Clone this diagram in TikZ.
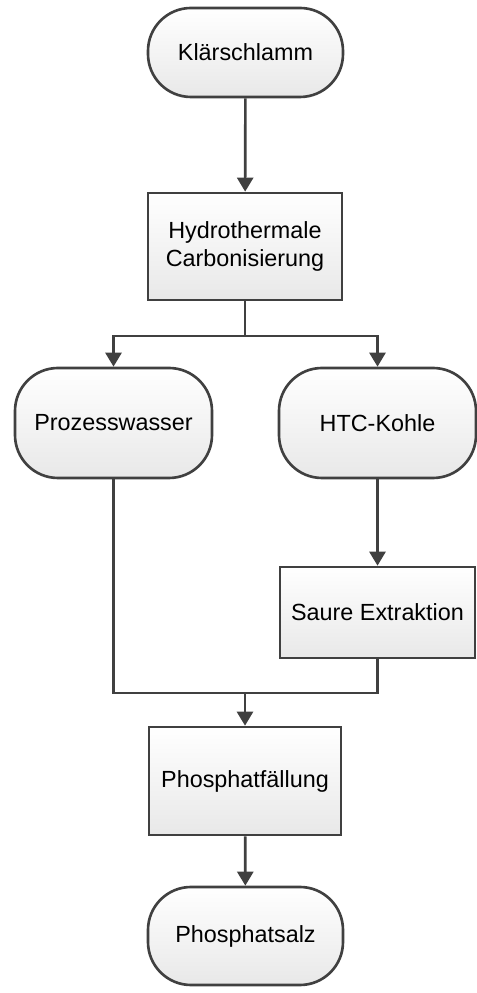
\documentclass[tikz,border=0pt]{standalone}
\usepackage{fontspec}
\setmainfont{Liberation Sans}
\usetikzlibrary{arrows.meta}

\definecolor{rand}{HTML}{404040}

\tikzset{
  kasten/.style={draw=rand, line width=1.5pt, top color=white, bottom color=black!9,
    align=center, font=\fontsize{13.3}{16}\selectfont, inner sep=2pt},
  termin/.style={kasten, rounded corners=0.86cm},
  pfeil/.style={draw=rand, line width=1.5pt,
    -{Triangle[width=0.32cm,length=0.28cm]}},
  linie/.style={draw=rand, line width=1.5pt}
}

\begin{document}
\begin{tikzpicture}
\useasboundingbox (0,0) rectangle (9.54,19.86);

% Ausgangsstoff und HTC
\node[termin, minimum width=3.9cm, minimum height=1.78cm] (klaer) at (4.91,18.81) {Klärschlamm};
\node[kasten, minimum width=3.88cm, minimum height=2.14cm] (htc) at (4.9,14.93) {Hydrothermale\\Carbonisierung};

% Produkte
\node[termin, minimum width=3.94cm, minimum height=2.2cm] (wasser) at (2.27,11.4) {Prozesswasser};
\node[termin, minimum width=3.94cm, minimum height=2.2cm] (kohle) at (7.55,11.4) {HTC-Kohle};
\node[kasten, minimum width=3.9cm, minimum height=1.82cm] (saure) at (7.55,7.61) {Saure Extraktion};

% Faellung
\node[kasten, minimum width=3.84cm, minimum height=2.16cm] (faell) at (4.9,4.24) {Phosphatfällung};
\node[termin, minimum width=3.9cm, minimum height=1.96cm] (salz) at (4.91,1.14) {Phosphatsalz};

\coordinate (split) at (4.9,13.14);
\coordinate (merge) at (4.9,6.0);

\draw[pfeil] (klaer) -- (htc);
\draw[linie] (htc) -- (split);
\draw[pfeil] (split) -| (wasser);
\draw[pfeil] (split) -| (kohle);
\draw[pfeil] (kohle) -- (saure);
\draw[linie] (wasser) |- (merge) -| (saure);
\draw[pfeil] (merge) -- (faell);
\draw[pfeil] (faell) -- (salz);

\end{tikzpicture}
\end{document}
